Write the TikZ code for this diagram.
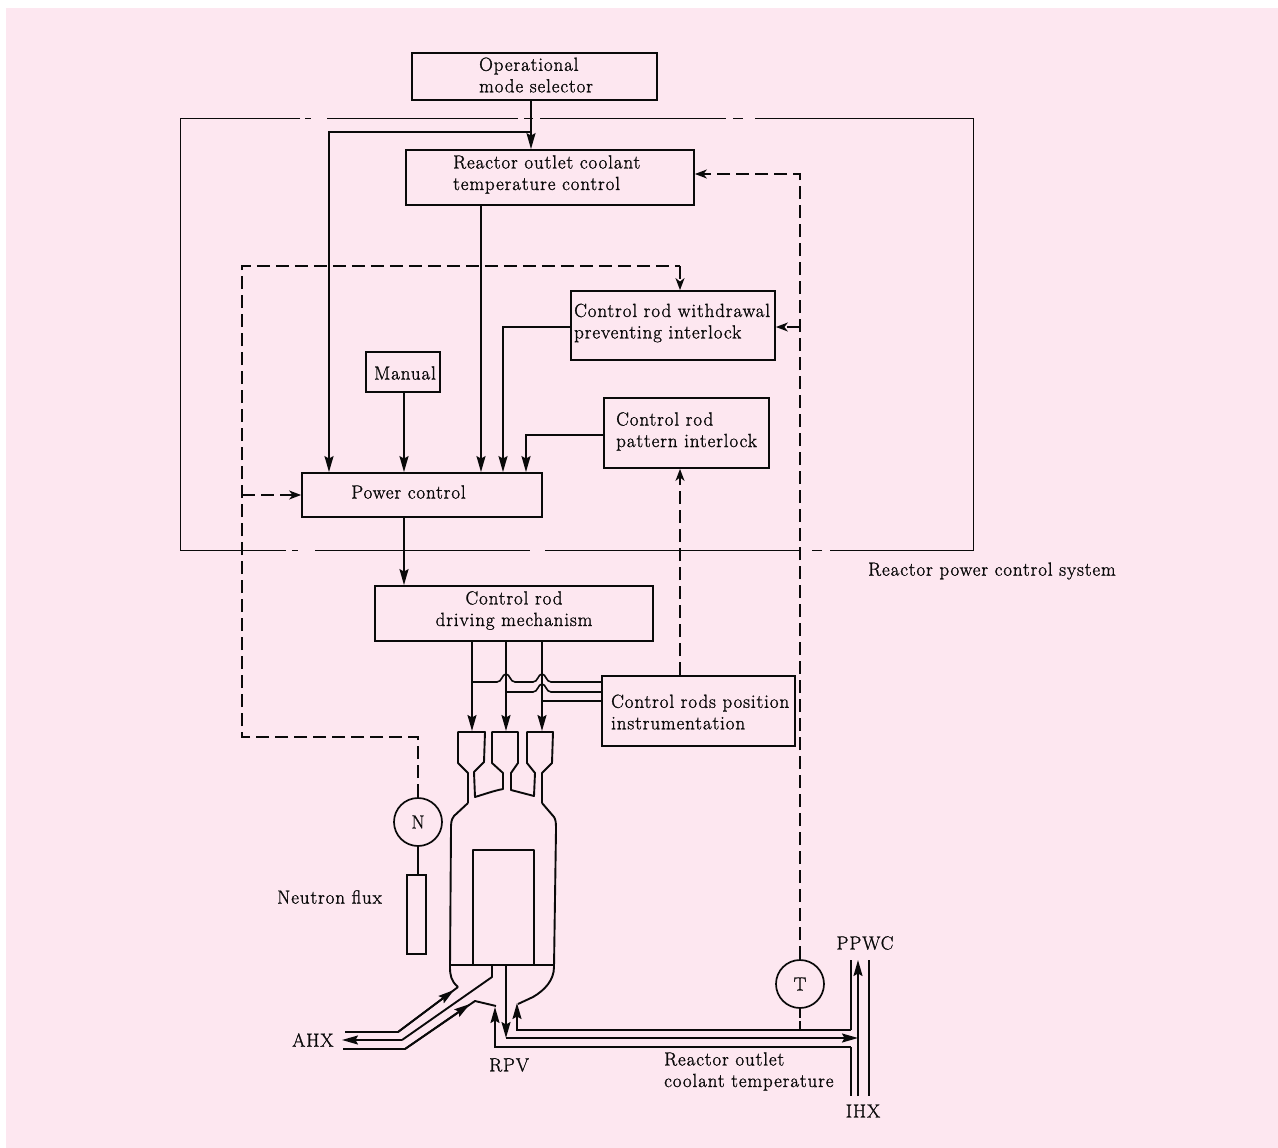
\documentclass[tikz,border=0pt]{standalone}
\usepackage{fontspec}
\setmainfont{Latin Modern Roman}[LetterSpace=4.7,FakeBold=1.2]
\usetikzlibrary{arrows.meta,calc}
\definecolor{bgpink}{HTML}{FDE7F0}
\definecolor{ink}{HTML}{0A0A0A}
\tikzset{
  every node/.style={text=ink,font=\fontsize{19}{21.5}\selectfont,inner sep=0pt},
  boxn/.style={draw=ink,line width=1.8pt,rectangle,minimum width=#1},
  lbl/.style={align=left,anchor=west},
  lblc/.style={align=center},
  conn/.style={draw=ink,line width=1.8pt},
  arr/.style={conn,-{Stealth[length=16pt,width=9pt,inset=2.5pt]}},
  dconn/.style={draw=ink,line width=1.5pt,dash pattern=on 13pt off 6pt},
  darr/.style={dconn,-{Stealth[length=12pt,width=9pt,inset=3.5pt]}},
  wall/.style={draw=ink,line width=1.9pt,line join=round},
  sys/.style={draw=ink,line width=1pt},
  inst/.style={draw=ink,line width=1.7pt,circle,minimum size=48pt}
}
\begin{document}
\begin{tikzpicture}[x=1pt,y=-1pt]
\useasboundingbox (0,0) rectangle (1278,1148);
\fill[white] (0,0) rectangle (1278,1148);
\fill[bgpink] (6,8) rectangle (1278,1148);
% column / row helpers
\foreach \n/\v in {a/531,b/329,c/481,d/404,e/503,f/526,g/680,h/800,i/242,j/472,k/506,l/542,o/418}
  \coordinate (x\n) at (\v,0);
% boxes
\node[boxn=245pt,minimum height=47pt] (op) at (534.5,76.5) {};
\node[boxn=288pt,minimum height=55pt] (rotc) at (550,177.5) {};
\node[boxn=204pt,minimum height=69pt] (wd) at (673,325.5) {};
\node[boxn=74pt,minimum height=40pt] (man) at (403,372) {};
\node[boxn=165pt,minimum height=70pt] (pat) at (686.5,433) {};
\node[boxn=240pt,minimum height=44pt] (pow) at (422,495) {};
\node[boxn=278pt,minimum height=55pt] (drv) at (514,613.5) {};
\node[boxn=193pt,minimum height=70pt] (pos) at (698.5,711) {};
\node[inst] (N) at (418,822) {};
\node[inst] (T) at (800,984) {};
\node[boxn=19pt,minimum height=79pt] (flux) at (416.5,914.5) {};
% labels
\node[lbl] (t1) at (479,75) {Operational\\mode selector};
\node[lbl] (t2) at (453,174.5) {Reactor outlet coolant\\temperature control};
\node[lbl] (t3) at (574,323) {Control rod withdrawal\\preventing interlock};
\node (t4) at (405,373) {Manual};
\node[lbl] (t5) at (616,431.5) {Control rod\\pattern interlock};
\node (t6) at (408.5,492) {Power control};
\node[lblc] (t7) at (514,610.5) {Control rod\\driving mechanism};
\node[lbl] (t8) at (611,712) {Control rods position\\instrumentation};
\node[lbl] (t9) at (868,571) {Reactor power control system};
\node (t10) at (418,822) {N};
\node (t11) at (800,984) {T};
\node[lbl] (t12) at (277,897) {Neutron flux};
\node[lbl] (t13) at (292,1040) {AHX};
\node[lbl] (t14) at (489,1065) {RPV};
\node[lbl] (t15) at (664,1071.5) {Reactor outlet\\coolant temperature};
\node (t16) at (865,943) {PPWC};
\node (t17) at (863,1111) {IHX};
% system boundary (chain line)
\draw[sys] (300,118) -- (180,118) -- (180,550) -- (286,550);
\draw[sys] (305,118) -- (311,118) (327,118) -- (518,118) (524,118) -- (533,118) (540,118) -- (726,118)
  (733,118) -- (743,118) (755,118) -- (973,118) -- (973,550) -- (830,550) (822,550) -- (812,550) (800,550) -- (545,550)
  (292,550) -- (298,550) (315,550) -- (530,550);
% solid connectors
\draw[arr] (op.south -| xa) -- (rotc.north -| xa);
\coordinate (jn) at (xa |- 0,132);
\draw[arr] (jn) -| (pow.north -| xb);
\draw[arr] (rotc.south -| xc) -- (pow.north -| xc);
\draw[arr] (man.south -| xd) -- (pow.north -| xd);
\draw[arr] (wd.west |- 0,327) -| (pow.north -| xe);
\draw[arr] (pat.west |- 0,435) -| (pow.north -| xf);
\draw[arr] (pow.south -| xd) -- (drv.north -| xd);
% dashed connectors
\draw[darr] (pos.north -| xg) -- (pat.south -| xg);
\draw[dconn] (N.north) |- (xi |- 0,737) -- (xi |- 0,266) -- (xg |- 0,266);
\draw[darr] (xg |- 0,266) -- (wd.north -| xg);
\draw[darr] (xi |- pow.west) -- (pow.west);
\draw[darr] (T.north) -- (xh |- 0,174) -- (rotc.east |- 0,174);
\draw[darr] (xh |- 0,327) -- (wd.east |- 0,327);
\draw[dconn,dash pattern=on 9pt off 3pt on 9pt off 0pt] (T.south) -- (xh |- 0,1030);
\draw[conn] (N.south) -- (flux.north -| N.south);
% control rods
\foreach \r in {j,k,l}
  \draw[arr] (drv.south -| x\r) -- (x\r |- 0,731);
% position signal lines with hops
\draw[conn,line width=1.6pt] (pos.west |- 0,682) -- (551,682) .. controls (546,682) and (546,674) .. (542,674)
  .. controls (538,674) and (538,682) .. (533,682) -- (515,682) .. controls (510,682) and (510,674) .. (506,674)
  .. controls (502,674) and (502,682) .. (497,682) -- (xj |- 0,682);
\draw[conn,line width=1.6pt] (pos.west |- 0,692) -- (551,692) .. controls (546,692) and (546,684) .. (542,684)
  .. controls (538,684) and (538,692) .. (533,692) -- (xk |- 0,692);
\draw[conn,line width=1.6pt] (pos.west |- 0,701) -- (xl |- 0,701);
% vessel upper nozzles
\draw[wall] (468,803) -- (468,773) -- (458,763) -- (458,732) -- (485,732) -- (484,762) -- (474,772) -- (475,797)
  .. controls (485,794) and (493,791) .. (503,789) -- (503,773) -- (492,763) -- (492,732) -- (518,732) -- (518,763)
  -- (511,773) -- (511,790) -- (534,796) -- (535,773) -- (527,763) -- (527,732) -- (553,732) -- (552,763) -- (542,773) -- (542,803);
% vessel body
\draw[wall] (468,803) -- (454,816) .. controls (451,820) and (451,823) .. (451,830) -- (450,967)
  .. controls (450,975) and (451,981) .. (458,987);
\draw[wall] (542,803) -- (554,817) .. controls (556,820) and (556,824) .. (556,830) -- (554,967)
  .. controls (554,980) and (545,990) .. (533,997) -- (518,1004);
\draw[wall] (450,965) -- (554,965);
\draw[wall] (473,965) -- (473,850) -- (534,850) -- (534,965);
% AHX pipes
\draw[wall] (345,1032) -- (398,1032) -- (458,987);
\draw[arr] (398,1032) -- (454,990);
\draw[wall] (492,965) -- (492,977) -- (402,1040);
\draw[arr] (402,1040) -- (342,1040);
\draw[wall] (343,1049) -- (405,1049) -- (475,1001) -- (496,1006);
\draw[arr] (405,1049) -- (470,1004);
% RPV / IHX / PPWC pipes
\draw[arr] (851,1047) -- (495,1047) -- (495,1007);
\draw[wall] (851,1047) -- (851,1096);
\draw[arr] (506,965) -- (506,1038);
\draw[arr] (506,1038) -- (858,1038);
\draw[arr] (851,1030) -- (517,1030) -- (517,1003);
\draw[wall] (851,1030) -- (851,960);
\draw[arr] (858,1096) -- (858,960);
\draw[wall] (869,960) -- (869,1096);
\end{tikzpicture}
\end{document}
